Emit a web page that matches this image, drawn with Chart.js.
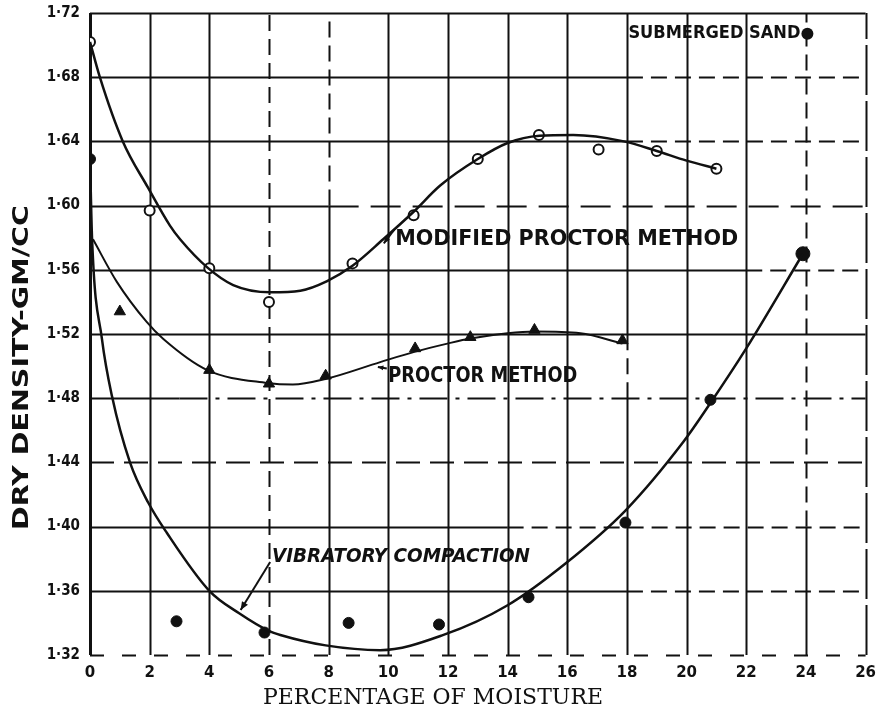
<!DOCTYPE html>
<html>
<head>
<meta charset="utf-8">
<title>Dry density vs moisture – submerged sand</title>
<script src="https://cdn.jsdelivr.net/npm/chart.js@4.4.1/dist/chart.umd.min.js"></script>
<style>
  html, body { margin: 0; padding: 0; background: #fff; }
  #wrap { width: 877px; height: 715px; }
</style>
</head>
<body>
<div id="wrap"><canvas id="chart" width="877" height="715"></canvas></div>
<script>
// ---- axis ticks ----
const xTicks = [0, 2, 4, 6, 8, 10, 12, 14, 16, 18, 20, 22, 24, 26];
const xTickLabels = ['0', '2', '4', '6', '8', '10', '12', '14', '16', '18', '20', '22', '24', '26'];
const yTicks = [1.32, 1.36, 1.40, 1.44, 1.48, 1.52, 1.56, 1.60, 1.64, 1.68, 1.72];
const yTickLabels = ['1·32', '1·36', '1·40', '1·44', '1·48', '1·52', '1·56', '1·60', '1·64', '1·68', '1·72'];

// ---- test results (moisture %, dry density gm/cc) ----
const modifiedX = [0, 2, 4, 6, 8.8, 10.85, 13, 15.05, 17.05, 19, 21];
const modifiedY = [1.702, 1.597, 1.561, 1.540, 1.564, 1.594, 1.629, 1.644, 1.635, 1.634, 1.623];

const proctorX = [1, 4, 6, 7.9, 10.9, 12.75, 14.9, 17.85];
const proctorY = [1.534, 1.4975, 1.489, 1.494, 1.511, 1.518, 1.5225, 1.516];

const vibratoryX = [0, 2.9, 5.85, 8.67, 11.7, 14.7, 17.95, 20.8, 23.9];
const vibratoryY = [1.629, 1.341, 1.334, 1.340, 1.339, 1.356, 1.4025, 1.479, 1.570];

// ---- hand-drawn fit curves through the results ----
const modifiedCurveX = [0, 0.33, 1.1, 1.95, 2.68, 3.02, 3.93, 4.8, 6.04, 7.05, 7.95, 8.8, 9.83, 10.84, 11.74, 13, 14, 15.07, 16.2, 17.9, 19, 20, 21];
const modifiedCurveY = [1.702, 1.680, 1.640, 1.611, 1.5875, 1.579, 1.5615, 1.5505, 1.546, 1.547, 1.553, 1.5625, 1.579, 1.596, 1.6125, 1.629, 1.639, 1.6435, 1.644, 1.640, 1.634, 1.628, 1.623];

const proctorCurveX = [0.1, 0.9, 1.9, 2.45, 3.93, 5.94, 6.8, 7.9, 9.73, 10.9, 11.98, 12.75, 14, 14.93, 16.44, 17.85];
const proctorCurveY = [1.579, 1.5525, 1.5275, 1.517, 1.4975, 1.4895, 1.4885, 1.492, 1.5025, 1.509, 1.514, 1.5172, 1.5205, 1.5215, 1.5205, 1.514];

const vibratoryCurveX = [0, 0.07, 0.4, 0.74, 1.34, 1.95, 2.58, 4, 5, 6, 6.38, 7.9, 9.73, 11.85, 14, 15.94, 17.95, 19.9, 20.8, 22, 23.9];
const vibratoryCurveY = [1.629, 1.579, 1.517, 1.481, 1.440, 1.415, 1.396, 1.360, 1.346, 1.335, 1.3325, 1.326, 1.323, 1.3325, 1.351, 1.377, 1.410, 1.453, 1.477, 1.511, 1.570];

const zip = (xs, ys) => xs.map((x, i) => ({ x: x, y: ys[i] }));

// ---- ruling of the grid: per line, [from, to, dash] pieces ----
const DASH = [16, 8];
const xGridRuling = [
  [[1.32, 1.72, []]],
  [[1.32, 1.72, []]],
  [[1.32, 1.72, []]],
  [[1.32, 1.72, DASH]],
  [[1.32, 1.60, []], [1.60, 1.72, DASH]],
  [[1.32, 1.72, []]],
  [[1.32, 1.72, []]],
  [[1.32, 1.72, []]],
  [[1.32, 1.72, []]],
  [[1.32, 1.48, []], [1.48, 1.52, DASH], [1.52, 1.72, []]],
  [[1.32, 1.72, []]],
  [[1.32, 1.72, []]],
  [[1.32, 1.40, []], [1.40, 1.72, DASH]],
  [[1.32, 1.72, [50, 6]]]
];
const yGridRuling = [
  [[0, 26, [14, 18]]],
  [[0, 18, []], [18, 26, DASH]],
  [[0, 14, []], [14, 26, DASH]],
  [[0, 26, [24, 10]]],
  [[0, 3, []], [3, 26, [28, 8, 4, 8]]],
  [[0, 26, []]],
  [[0, 22, []], [22, 26, DASH]],
  [[0, 8, []], [8, 26, [30, 12]]],
  [[0, 18, []], [18, 26, DASH]],
  [[0, 18, []], [18, 26, DASH]],
  [[0, 26, []]]
];
const INK = '#111';

const gridPlugin = {
  id: 'ruledGrid',
  beforeDatasetsDraw(chart) {
    const { ctx, scales: { x, y } } = chart;
    ctx.save();
    ctx.strokeStyle = INK;
    ctx.lineCap = 'butt';
    xTicks.forEach((v, i) => {
      const px = Math.round(x.getPixelForValue(v)) + 0.5;
      ctx.lineWidth = i === 0 ? 3 : 2;
      xGridRuling[i].forEach(([a, b, dash]) => {
        ctx.setLineDash(dash);
        ctx.beginPath();
        ctx.moveTo(px, y.getPixelForValue(a));
        ctx.lineTo(px, y.getPixelForValue(b));
        ctx.stroke();
      });
    });
    yTicks.forEach((v, i) => {
      const py = Math.round(y.getPixelForValue(v)) + 0.5;
      ctx.lineWidth = 2;
      yGridRuling[i].forEach(([a, b, dash]) => {
        ctx.setLineDash(dash);
        ctx.beginPath();
        ctx.moveTo(x.getPixelForValue(a), py);
        ctx.lineTo(x.getPixelForValue(b), py);
        ctx.stroke();
      });
    });
    ctx.restore();
  }
};

// text squeezed or stretched to a given width
function fittedText(ctx, text, px, py, width, font) {
  ctx.save();
  ctx.font = font;
  ctx.textBaseline = 'middle';
  ctx.textAlign = 'left';
  const w = ctx.measureText(text).width;
  ctx.translate(px, py);
  ctx.scale(width / w, 1);
  ctx.fillText(text, 0, 0);
  ctx.restore();
}

function arrow(ctx, x0, y0, x1, y1, head) {
  const ang = Math.atan2(y1 - y0, x1 - x0);
  ctx.beginPath();
  ctx.moveTo(x0, y0);
  ctx.lineTo(x1, y1);
  ctx.stroke();
  ctx.beginPath();
  ctx.moveTo(x1, y1);
  ctx.lineTo(x1 - head * Math.cos(ang - 0.4), y1 - head * Math.sin(ang - 0.4));
  ctx.lineTo(x1 - head * Math.cos(ang + 0.4), y1 - head * Math.sin(ang + 0.4));
  ctx.closePath();
  ctx.fill();
}

const labelPlugin = {
  id: 'curveLabels',
  afterDatasetsDraw(chart) {
    const { ctx, scales: { x, y } } = chart;
    const X = v => x.getPixelForValue(v);
    const Y = v => y.getPixelForValue(v);
    ctx.save();
    ctx.fillStyle = INK;
    ctx.strokeStyle = INK;
    ctx.lineWidth = 2;

    const hand = 'bold 21px "DejaVu Sans Condensed", "DejaVu Sans", sans-serif';
    fittedText(ctx, 'SUBMERGED SAND', X(18.05), Y(1.7075), 172, 'bold 18px "DejaVu Sans Condensed", sans-serif');
    ctx.beginPath();
    ctx.arc(X(24.05), Y(1.707), 6, 0, Math.PI * 2);
    ctx.fill();

    fittedText(ctx, 'MODIFIED PROCTOR METHOD', X(10.23), Y(1.579), 343, hand);
    arrow(ctx, X(10.2), Y(1.585), X(9.85), Y(1.5765), 7);

    fittedText(ctx, 'PROCTOR METHOD', X(10.0), Y(1.4932), 189, hand);
    arrow(ctx, X(9.95), Y(1.4985), X(9.65), Y(1.4995), 6);

    fittedText(ctx, 'VIBRATORY COMPACTION', X(6.1), Y(1.381), 258, 'italic bold 19px "DejaVu Sans Condensed", sans-serif');
    arrow(ctx, X(6.04), Y(1.378), X(5.05), Y(1.348), 9);

    // axis titles
    fittedText(ctx, 'PERCENTAGE OF MOISTURE', 263, 698, 340, '23px "DejaVu Serif", serif');

    ctx.save();
    ctx.translate(22, 368);
    ctx.rotate(-Math.PI / 2);
    fittedText(ctx, 'DRY DENSITY-GM/CC', -162, 0, 325, 'bold 22px "DejaVu Sans", sans-serif');
    ctx.restore();

    ctx.restore();
  }
};

const curveStyle = {
  type: 'line',
  borderColor: INK,
  borderWidth: 2.5,
  pointRadius: 0,
  fill: false,
  cubicInterpolationMode: 'monotone',
  showLine: true
};

new Chart(document.getElementById('chart'), {
  type: 'scatter',
  data: {
    datasets: [
      Object.assign({ label: 'Modified Proctor fit', data: zip(modifiedCurveX, modifiedCurveY) }, curveStyle),
      Object.assign({ label: 'Proctor fit', data: zip(proctorCurveX, proctorCurveY) }, curveStyle, { borderWidth: 2 }),
      Object.assign({ label: 'Vibratory fit', data: zip(vibratoryCurveX, vibratoryCurveY) }, curveStyle),
      {
        label: 'Modified Proctor method',
        data: zip(modifiedX, modifiedY),
        pointStyle: 'circle', pointRadius: 5, borderWidth: 2,
        borderColor: INK, backgroundColor: '#fff'
      },
      {
        label: 'Proctor method',
        data: zip(proctorX, proctorY),
        pointStyle: 'triangle', pointRadius: 6.5, borderWidth: 1,
        borderColor: INK, backgroundColor: INK
      },
      {
        label: 'Vibratory compaction',
        data: zip(vibratoryX, vibratoryY),
        pointStyle: 'circle',
        pointRadius: c => (c.dataIndex === vibratoryX.length - 1 ? 7 : 5.5),
        borderWidth: 1, borderColor: INK, backgroundColor: INK
      }
    ]
  },
  options: {
    responsive: false,
    animation: false,
    devicePixelRatio: 1,
    layout: { padding: { left: 0, right: 4, top: 13, bottom: 0 }, autoPadding: false },
    plugins: { legend: { display: false }, tooltip: { enabled: false } },
    scales: {
      x: {
        type: 'linear', min: 0, max: 26,
        afterBuildTicks: s => { s.ticks = xTicks.map(v => ({ value: v })); },
        afterFit: s => { s.height = 60; },
        ticks: {
          callback: (v, i) => xTickLabels[i],
          color: INK, padding: 1, maxRotation: 0, autoSkip: false,
          font: { family: '"DejaVu Sans", sans-serif', size: 15, weight: 'bold' }
        },
        grid: { display: false },
        border: { display: false }
      },
      y: {
        type: 'linear', min: 1.32, max: 1.72,
        afterBuildTicks: s => { s.ticks = yTicks.map(v => ({ value: v })); },
        afterFit: s => { s.width = 90; },
        ticks: {
          callback: (v, i) => yTickLabels[i],
          color: INK, padding: 2, autoSkip: false,
          font: { family: '"DejaVu Sans Condensed", sans-serif', size: 15, weight: 'bold' }
        },
        grid: { display: false },
        border: { display: false }
      }
    }
  },
  plugins: [gridPlugin, labelPlugin]
});
</script>
</body>
</html>
